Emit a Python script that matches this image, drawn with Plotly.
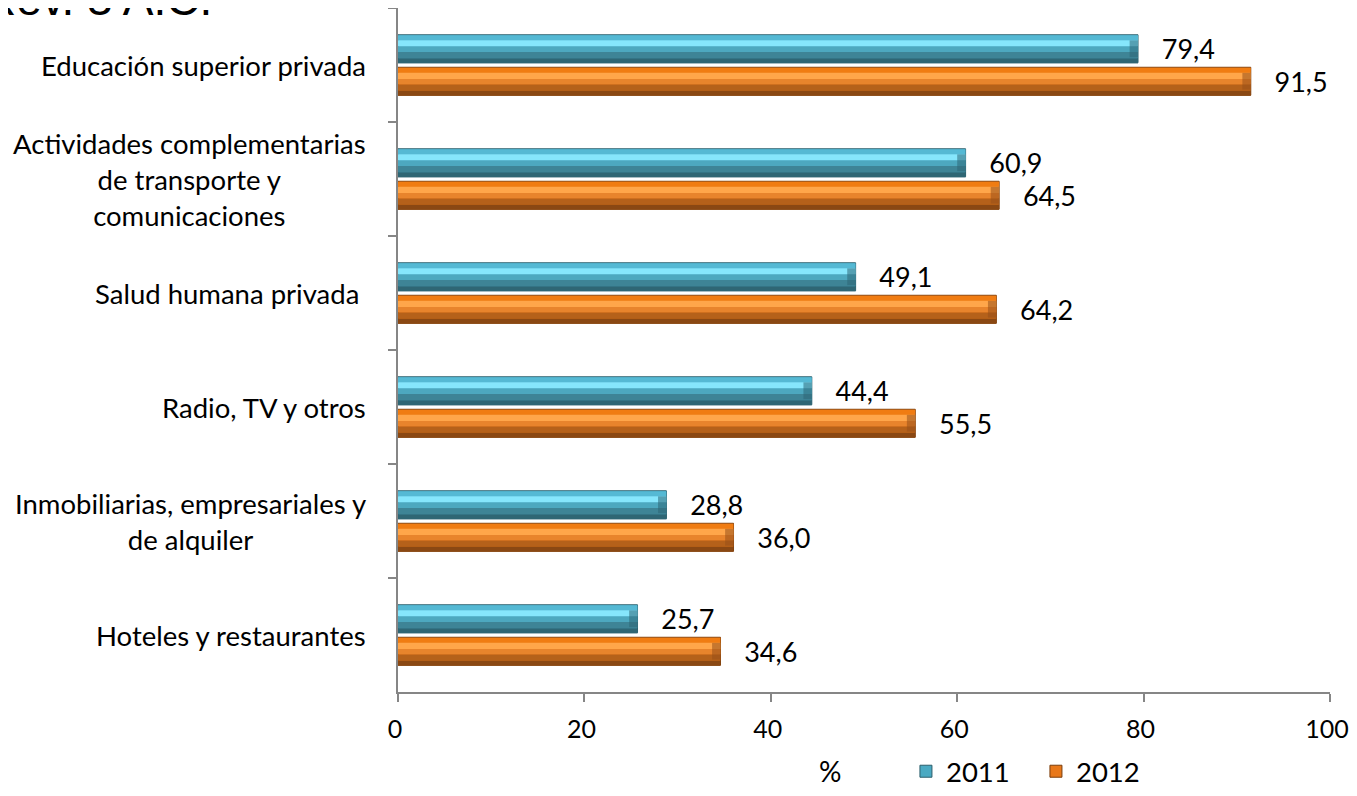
import plotly.graph_objects as go

# ---- data (top-to-bottom as displayed) ----
categories = [
    "Educación superior privada",
    "Actividades complementarias<br>de transporte y<br>comunicaciones",
    "Salud humana privada ",
    "Radio, TV y otros",
    "Inmobiliarias, empresariales y<br>de alquiler",
    "Hoteles y restaurantes",
]
values_2011 = [79.4, 60.9, 49.1, 44.4, 28.8, 25.7]
values_2012 = [91.5, 64.5, 64.2, 55.5, 36.0, 34.6]
series_names = ["2011", "2012"]
x_tick_values = [0, 20, 40, 60, 80, 100]
x_tick_labels = ["0", "20", "40", "60", "80", "100"]
title_text = "Rev. 3 A.C."
axis_unit = "%"

FONT = "Lato"
W = 0.245  # bar thickness in category units
CAP = 0.9  # bevel end-cap length in x units

series = [
    dict(name=series_names[0], values=values_2011, offset=-0.265,
         base="#4AA9C2", line="#2C5E6B", cap="#2E6676",
         bands=[(0.00, 0.18, "#55B9D4"), (0.18, 0.40, "#86E6FC"),
                (0.40, 0.60, "#4DA8BF"), (0.60, 0.82, "#3E8496"),
                (0.82, 1.00, "#2F6674")]),
    dict(name=series_names[1], values=values_2012, offset=0.02,
         base="#E8781A", line="#7A3D0C", cap="#97501A",
         bands=[(0.00, 0.18, "#F07C12"), (0.18, 0.40, "#FFA64A"),
                (0.40, 0.60, "#E8842C"), (0.60, 0.82, "#B5611A"),
                (0.82, 1.00, "#8A4813")]),
]

fig = go.Figure()
for s in series:
    fig.add_trace(go.Bar(
        y=categories, x=s["values"], orientation="h", name=s["name"],
        offset=s["offset"], width=W,
        marker=dict(color=s["base"], line=dict(color=s["line"], width=1)),
        text=s["values"], texttemplate="   %{x:.1f}", textposition="outside",
        constraintext="none",
        textfont=dict(family=FONT, size=27, color="black"),
        cliponaxis=False, hoverinfo="skip",
    ))
    for f0, f1, col in s["bands"]:
        fig.add_trace(go.Bar(
            y=categories, x=s["values"], orientation="h",
            offset=s["offset"] + W * f0 + 0.004, width=W * (f1 - f0),
            marker=dict(color=col, line=dict(width=0)),
            showlegend=False, hoverinfo="skip",
        ))
    # darker bevel at the bar end
    fig.add_trace(go.Bar(
        y=categories, x=[CAP] * len(s["values"]),
        base=[v - CAP for v in s["values"]], orientation="h",
        offset=s["offset"] + W * 0.2, width=W * 0.6,
        marker=dict(color=s["cap"], opacity=0.55, line=dict(width=0)),
        showlegend=False, hoverinfo="skip",
    ))

# category labels as centered multi-line annotations
for c in categories:
    fig.add_annotation(
        x=-0.0322, xref="paper", y=c, yref="y", text=c, showarrow=False,
        xanchor="right", yanchor="middle", align="center",
        font=dict(family=FONT, size=27.5, color="black"),
    )

fig.add_annotation(
    x=-0.447, xref="paper", y=1.013, yref="paper", yanchor="middle", xanchor="left",
    text=title_text, showarrow=False,
    font=dict(family="Liberation Sans", size=46, color="black"),
)
fig.add_annotation(
    x=0.4635, xref="paper", y=-0.116, yref="paper", yanchor="middle",
    text=axis_unit, showarrow=False,
    font=dict(family=FONT, size=28, color="black"),
)

fig.update_layout(
    width=1349, height=780,
    margin=dict(l=390, r=27, t=0, b=96, autoexpand=False),
    paper_bgcolor="white", plot_bgcolor="white",
    barmode="overlay",
    separators=",.",
    showlegend=True,
    legend=dict(orientation="h", x=0.545, y=-0.116, xanchor="left", yanchor="middle",
                font=dict(family=FONT, size=27.5, color="black"),
                itemwidth=30, entrywidth=85, tracegroupgap=0),
    xaxis=dict(range=[0, 100], tickvals=x_tick_values, ticktext=x_tick_labels,
               showgrid=False, zeroline=False, showline=True, linecolor="#868686",
               linewidth=1.5, ticks="outside", ticklen=8, tickcolor="#868686",
               tickwidth=1.5, ticklabelstandoff=6, ticklabeloverflow="allow",
               ticklabelshift=-3,
               tickfont=dict(family=FONT, size=25, color="black")),
    yaxis=dict(range=[5.5, -0.5], showgrid=False, zeroline=False, showline=True,
               linecolor="#868686", linewidth=1.5, ticks="outside", ticklen=8,
               tickcolor="#868686", tickwidth=1.5, tickson="boundaries",
               showticklabels=False),
)

fig.write_html("out.html")
